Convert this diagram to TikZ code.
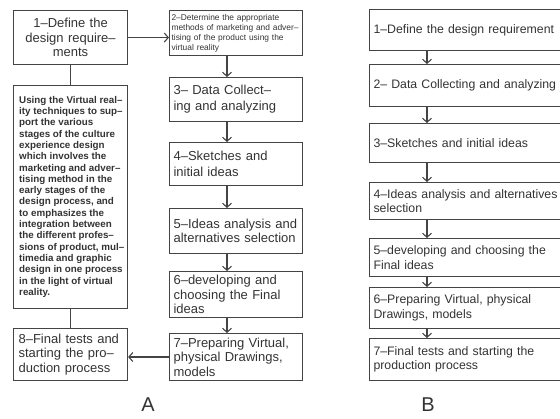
\documentclass[tikz,border=0pt]{standalone}
\usepackage{fontspec}
\setmainfont{Liberation Sans}
\usepackage{xcolor}
\usepackage{tikz}
\usetikzlibrary{arrows.meta}
\definecolor{linegray}{HTML}{444444}
\definecolor{textgray}{HTML}{333333}
\tikzset{
	box/.style={draw=linegray, line width=1.1pt, anchor=north west, inner xsep=4pt, inner ysep=2pt, align=left, text=textgray, font=\fontsize{13}{14.5}\selectfont},
	bbox/.style={box, text width=220pt, font=\fontsize{12.3}{14.5}\selectfont},
	arr/.style={draw=linegray, line width=1.1pt, -{Straight Barb[length=4pt,width=9pt]}},
	lnk/.style={draw=linegray, line width=1.1pt},
	panel/.style={inner sep=0pt, text=textgray, font=\fontsize{20}{20}\selectfont},
}

\begin{document}
\begin{tikzpicture}[x=1pt,y=-1pt]
			\useasboundingbox (0,0) rectangle (560,419);
			\clip (0,0) rectangle (560,419);
			\node[box, align=center, text width=106pt, minimum height=54pt] (d1) at (13,10) {1--Define the\\design require--\\ments};
			\node[box, minimum width=114pt, minimum height=223pt] (vr) at (13,85) {};
			\node[anchor=north west, inner sep=0pt, align=left, text=textgray, font=\bfseries\fontsize{9.8}{11.3}\selectfont] (vrtext) at (19,96) {Using the Virtual real--\\ity techniques to sup--\\port the various\\stages of the culture\\experience design\\which involves the\\marketing and adver--\\tising method in the\\early stages of the\\design process, and\\to emphasizes the\\integration between\\the different profes--\\sions of product, mul--\\timedia and graphic\\design in one process\\in the light of virtual\\reality.};
			\node[box, inner xsep=5pt, text width=104pt, minimum height=52pt] (s8) at (13,328) {8--Final tests and\\starting the pro--\\duction process};
			\node[box, inner xsep=2pt, text width=129pt, minimum height=45pt, font=\fontsize{8.4}{10}\selectfont] (s2) at (169,10) {2--Determine the appropriate\\methods of marketing and adver--\\tising of the product using the\\virtual reality};
			\node[box, text width=125pt, minimum height=44pt, font=\fontsize{13}{16}\selectfont] (s3) at (169,77) {3-- Data Collect--\\ing and analyzing};
			\node[box, text width=125pt, minimum height=43pt, font=\fontsize{13}{16}\selectfont] (s4) at (169,142) {4--Sketches and\\initial ideas};
			\node[box, text width=125pt, minimum height=45pt] (s5) at (169,208) {5--Ideas analysis and\\alternatives selection};
			\node[box, text width=125pt, minimum height=46pt] (s6) at (169,271) {6--developing and\\choosing the Final\\ideas};
			\node[box, text width=125pt, minimum height=47pt] (s7) at (169,333) {7--Preparing Virtual,\\physical Drawings,\\models};
			\node[bbox, minimum height=41pt] (b1) at (369,9) {1--Define the design requirement};
			\node[bbox, minimum height=42pt] (b2) at (369,64) {2-- Data Collecting and analyzing};
			\node[bbox, minimum height=39pt] (b3) at (369,123) {3--Sketches and initial ideas};
			\node[bbox, minimum height=37pt] (b4) at (369,182) {4--Ideas analysis and alternatives\\selection};
			\node[bbox, minimum height=38pt] (b5) at (369,238) {5--developing and choosing the\\Final ideas};
			\node[bbox, minimum height=41pt] (b6) at (369,287) {6--Preparing Virtual, physical\\Drawings, models};
			\node[bbox, minimum height=42pt] (b7) at (369,338) {7--Final tests and starting the\\production process};
			\node[panel] (labA) at (148,405) {A};
			\node[panel] (labB) at (428,405) {B};
			\coordinate (ax) at (227,0);
			\coordinate (bx) at (427,0);
			\draw[arr] (d1.east) -- (d1.east -| s2.west);
			\draw[lnk] (d1.south) -- (vr.north);
			\draw[lnk] (vr.south) -- (s8.north);
			\draw[arr] (s7.west) -- (s7.west -| s8.east);
			\draw[arr] (s2.south -| ax) -- (s3.north -| ax);
			\draw[arr] (s3.south -| ax) -- (s4.north -| ax);
			\draw[arr] (s4.south -| ax) -- (s5.north -| ax);
			\draw[arr] (s5.south -| ax) -- (s6.north -| ax);
			\draw[arr] (s6.south -| ax) -- (s7.north -| ax);
			\draw[arr] (b1.south -| bx) -- (b2.north -| bx);
			\draw[arr] (b2.south -| bx) -- (b3.north -| bx);
			\draw[arr] (b3.south -| bx) -- (b4.north -| bx);
			\draw[arr] (b4.south -| bx) -- (b5.north -| bx);
			\draw[arr] (b5.south -| bx) -- (b6.north -| bx);
			\draw[arr] (b6.south -| bx) -- (b7.north -| bx);
		\end{tikzpicture}
\end{document}
